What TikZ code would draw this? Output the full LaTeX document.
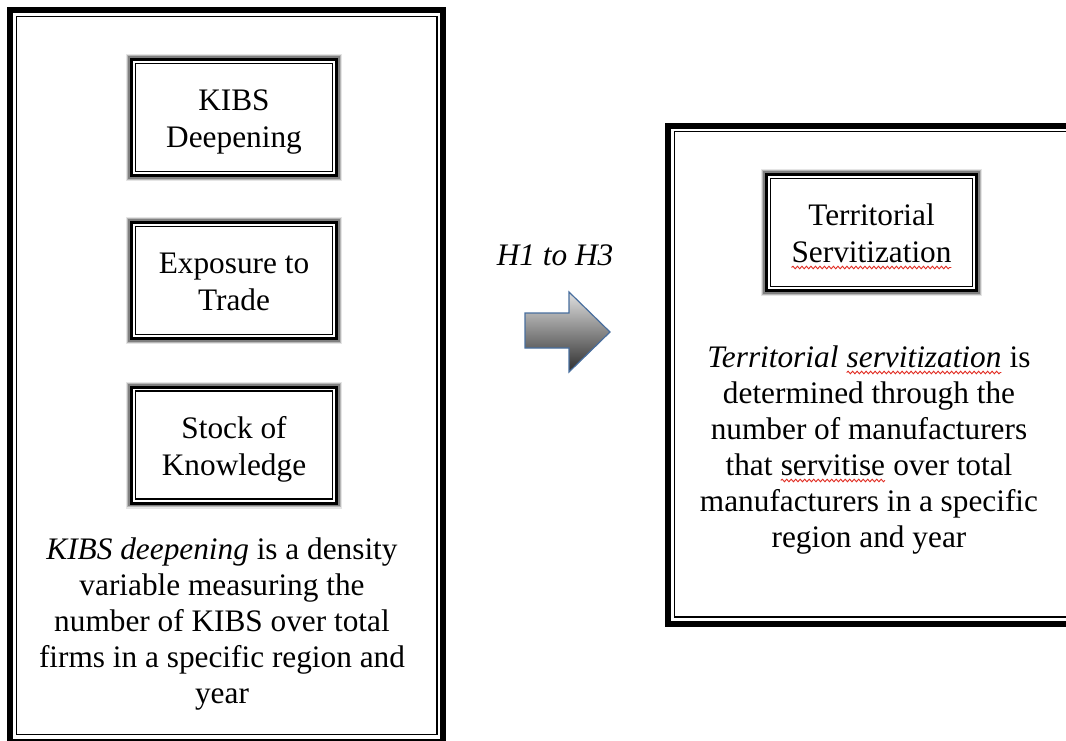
\documentclass[tikz,border=0pt]{standalone}
\usepackage{fontspec}
\setmainfont{Liberation Serif}
\usetikzlibrary{positioning,decorations.pathmorphing}
\definecolor{fauteRouge}{RGB}{225,45,35}
\definecolor{bordFleche}{RGB}{72,110,158}
\newcommand\ondule[1]{\tikz[baseline=(m.base),x=1pt,y=1pt]{\node[inner sep=0pt,outer sep=0pt,minimum size=0pt,draw=none,fill=none] (m) {#1}; \draw[fauteRouge,line width=0.9pt,decorate,decoration={snake,amplitude=1.3pt,segment length=4.5pt}] ([yshift=-5pt]m.base west) -- ([yshift=-5pt]m.base east);}}
\newcommand\ligne{\rule[-7pt]{0pt}{37pt}}

\begin{document}
\begin{tikzpicture}[x=1pt,y=-1pt]
            % Styles
            \tikzstyle{cadre}=[draw,line width=3pt,fill=white,minimum width=205pt,minimum height=116pt,align=center,font=\fontsize{31.3}{37}\selectfont,preaction={draw=black,opacity=.1,line width=11pt},preaction={draw=black,opacity=.2,line width=8.5pt},preaction={draw=black,opacity=.3,line width=6.5pt}]
            \tikzstyle{filet}=[line width=1.5pt]
            \tikzstyle{grandcadre}=[line width=6pt]
            \tikzstyle{grandfilet}=[line width=1.8pt]
            \tikzstyle{corps}=[align=center,font=\fontsize{31.3}{36}\selectfont]
            \tikzstyle{fleche}=[draw=bordFleche,line width=1.2pt,line join=miter,top color=black!12,bottom color=black!82]
            % Dimensions
            \def\ColonneG{234}
            \def\ColonneD{871.5}
            \useasboundingbox (0,0) rectangle (1066,740);
            % Grands cadres
            \draw[grandcadre] (10,9.5) rectangle (443,742);
            \draw[grandfilet] (16.5,16.5) rectangle (437,734.5);
            \draw[grandcadre] (668,125.5) rectangle (1078,623.5);
            \draw[grandfilet] (674.5,131.5) rectangle (1070,617);
            % Noeuds
            \node[cadre] (KD) at (\ColonneG,117.5) {\ligne KIBS\\\ligne Deepening};
            \node[cadre] (ET) at (\ColonneG,280.5) {\ligne Exposure to\\\ligne Trade};
            \node[cadre] (SK) at (\ColonneG,445) {\ligne Stock of\\\ligne Knowledge};
            \node[cadre,minimum width=210pt] (TS) at (\ColonneD,232.5) {\ligne Territorial\\\ligne\ondule{Servitization}};
            \foreach \n in {KD,ET,SK,TS}
              \draw[filet] ([shift={(5.5,5.5)}]\n.north west) rectangle ([shift={(-5.5,-5.5)}]\n.south east);
            \node[corps] (defK) at (222,624) {\textit{KIBS deepening} is a density\\variable measuring the\\number of KIBS over total\\firms in a specific region and\\year};
            \node[corps] (defT) at (869,450) {\textit{Territorial \ondule{servitization}} is\\determined through the\\number of manufacturers\\that \ondule{servitise} over total\\manufacturers in a specific\\region and year};
            \node[corps] (hyp) at (555,255) {\textit{H1 to H3}};
            % Fleche
            \draw[fleche] (525,313) -- (569,313) -- (569,292) -- (610,332) -- (569,372) -- (569,348) -- (525,348) -- cycle;
        \end{tikzpicture}
\end{document}
